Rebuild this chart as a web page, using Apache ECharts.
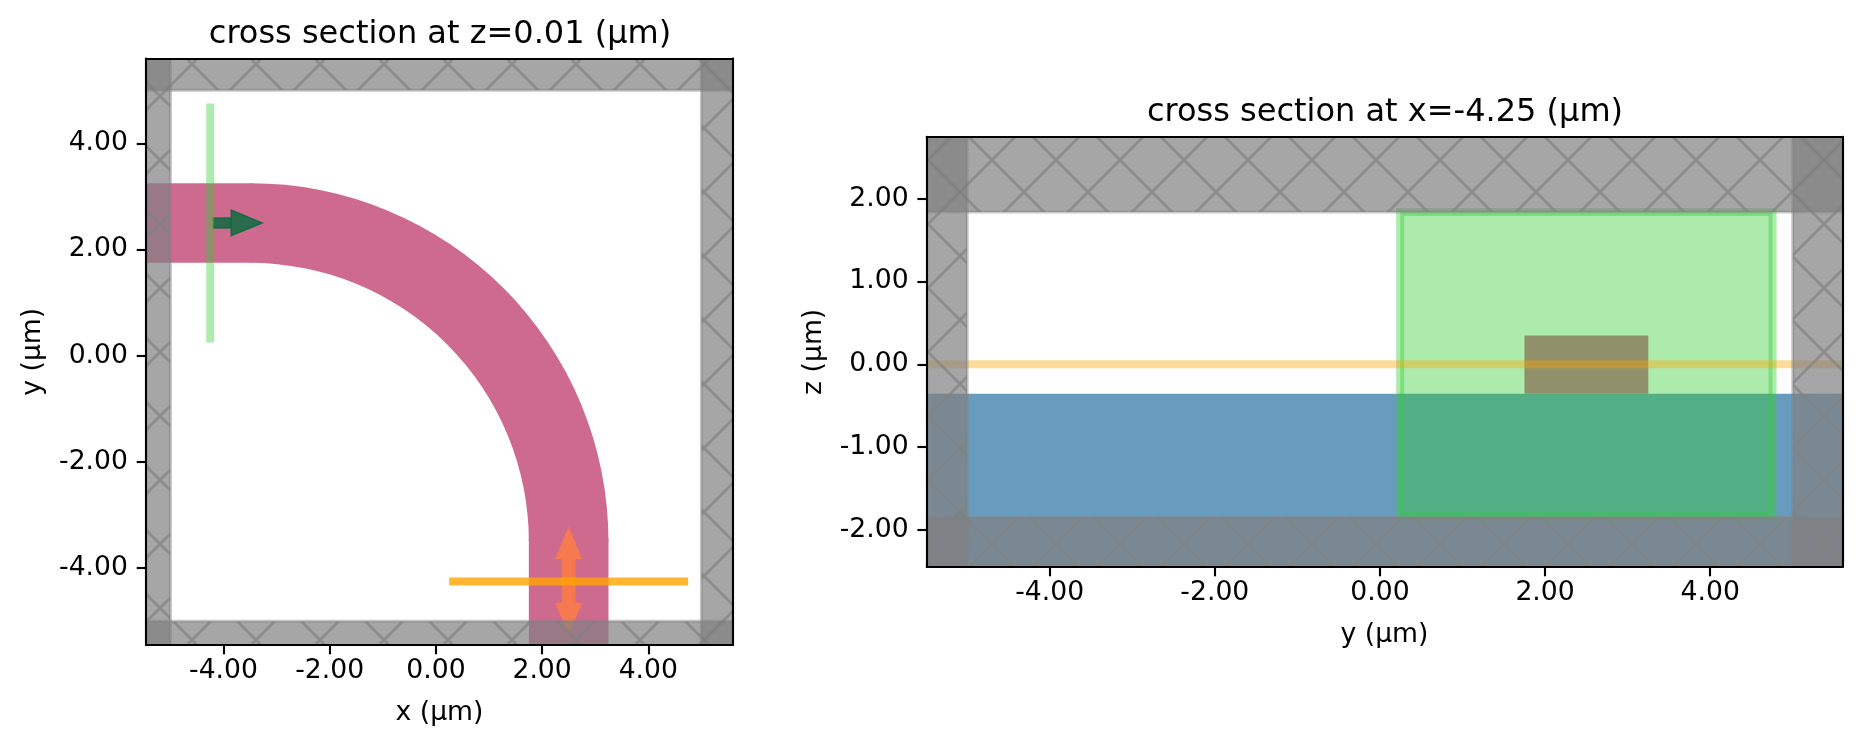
<!DOCTYPE html>
<html><head><meta charset="utf-8">
<style>html,body{margin:0;padding:0;background:#fff}#c{width:1861px;height:748px}</style>
<script src="https://cdn.jsdelivr.net/npm/echarts@6/dist/echarts.min.js"></script>
</head><body><div id="c"></div>
<script>
// axis ranges and ticks
const leftXRange = [-5.46, 5.595];
const leftYRange = [-5.448, 5.597];
const rightXRange = [-5.49, 5.6];
const rightYRange = [-2.448, 2.75];
const leftXTicks = [-4, -2, 0, 2, 4];
const leftYTicks = [-4, -2, 0, 2, 4];
const rightXTicks = [-4, -2, 0, 2, 4];
const rightYTicks = [-2, -1, 0, 1, 2];
const leftTitle = 'cross section at z=0.01 (µm)';
const rightTitle = 'cross section at x=-4.25 (µm)';
// rectangles are [x0, x1, y0, y1] in µm
const wgStraights = [[-6, -3.45, 1.75, 3.25], [1.75, 3.25, -6, -3.45]];
const wgBend = [[-3.5, -3.5, 5.25, 6.75]]; // cx, cy, inner r, outer r
const leftPml = [[-6, 6, 5, 6], [-6, 6, -6, -5], [-6, -5, -6, 6], [5, 6, -6, 6]];
const sourcePlaneLine = [[-4.25, 0.25, -4.25, 4.75]];
const monitorPlaneLine = [[0.25, -4.25, 4.75, -4.25]];
const sourceArrow = [[-4.19,2.406],[-3.855,2.406],[-3.855,2.74],[-3.27,2.5],[-3.855,2.26],[-3.855,2.594],[-4.19,2.594]];
const monitorArrow = [[2.5,-3.226],[2.25,-3.83],[2.374,-3.83],[2.374,-4.654],[2.25,-4.654],[2.5,-5.25],[2.75,-4.654],[2.626,-4.654],[2.626,-3.83],[2.75,-3.83]];
const substrate = [[-6, 6, -3, -0.355]];
const wgSection = [[1.75, 3.25, -0.355, 0.35]];
const monitorLine = [[-6, 0, 6, 0]];
const sourceBox = [[0.245, 4.755, -1.835, 1.84]];
const rightPml = [[-6, 6, 1.84, 3], [-6, 6, -3, -1.85], [-6, -5, -3, 3], [5, 6, -3, 3]];

const FONT = 'DejaVu Sans';
const GRAY = 'rgba(128,128,128,0.7)';

function hatchTile() {
  const s = 64, cv = document.createElement('canvas');
  cv.width = s; cv.height = s;
  const g = cv.getContext('2d');
  g.fillStyle = GRAY; g.fillRect(0, 0, s, s);
  g.beginPath();
  for (const k of [-1, 0, 1]) {
    g.moveTo(-s, -s + k * s); g.lineTo(2 * s, 2 * s + k * s);
    g.moveTo(2 * s + k * s, -s); g.lineTo(-s + k * s, 2 * s);
  }
  g.strokeStyle = GRAY; g.lineWidth = 2.67; g.stroke();
  return cv;
}
const hatch = { image: hatchTile(), repeat: 'repeat' };

function base(name, grid, data, z, renderItem) {
  const ax = grid === 0 ? 0 : 2;
  return { type: 'custom', name, xAxisIndex: ax, yAxisIndex: ax, clip: true, z, silent: true,
    data, renderItem, encode: { x: 0, y: 1 }, animation: false };
}
function rects(name, grid, data, z, style) {
  return base(name, grid, data, z, (p, api) => {
    const a = api.coord([api.value(0), api.value(3)]), b = api.coord([api.value(1), api.value(2)]);
    return { type: 'rect', shape: { x: a[0], y: a[1], width: b[0] - a[0], height: b[1] - a[1] }, style };
  });
}
function lines(name, grid, data, z, style) {
  return base(name, grid, data, z, (p, api) => {
    const a = api.coord([api.value(0), api.value(1)]), b = api.coord([api.value(2), api.value(3)]);
    return { type: 'line', shape: { x1: a[0], y1: a[1], x2: b[0], y2: b[1] }, style };
  });
}
function bend(name, grid, data, z, style) {
  return base(name, grid, data, z, (p, api) => {
    const c = api.coord([api.value(0), api.value(1)]);
    const u = api.size([1, 1]), k = (u[0] + u[1]) / 2;
    return { type: 'sector', shape: { cx: c[0], cy: c[1], r0: api.value(2) * k, r: api.value(3) * k,
      startAngle: -Math.PI / 2, endAngle: 0, clockwise: true }, style };
  });
}
function polygon(name, grid, pts, z, style) {
  return base(name, grid, pts, z, (p, api) => {
    if (p.dataIndex !== 0) return null;
    return { type: 'polygon', shape: { points: pts.map(q => api.coord(q)) }, style };
  });
}

const pink = { fill: '#cf6a8f' };
const pmlStyle = { fill: hatch, stroke: 'rgba(128,128,128,0.45)', lineWidth: 3 };
const series = [
  rects('waveguide', 0, wgStraights, 2, pink),
  bend('bend', 0, wgBend, 2, pink),
  polygon('source arrow', 0, sourceArrow, 3, { fill: 'rgba(0,107,60,0.8)', stroke: 'rgba(0,107,60,0.8)', lineWidth: 1.5 }),
  polygon('monitor arrow', 0, monitorArrow, 3, { fill: 'rgba(255,125,62,0.8)', stroke: 'rgba(255,125,62,0.3)', lineWidth: 1 }),
  lines('source plane', 0, sourcePlaneLine, 4, { stroke: 'rgba(50,205,50,0.4)', lineWidth: 8 }),
  lines('monitor plane', 0, monitorPlaneLine, 4, { stroke: 'rgba(255,165,0,0.8)', lineWidth: 8 }),
  rects('pml', 0, leftPml, 5, pmlStyle),
  rects('substrate', 1, substrate, 2, { fill: '#689cbe' }),
  rects('waveguide section', 1, wgSection, 2, pink),
  rects('source box', 1, sourceBox, 3, { fill: 'rgba(50,205,50,0.4)', stroke: 'rgba(50,205,50,0.4)', lineWidth: 8 }),
  lines('monitor line', 1, monitorLine, 4, { stroke: 'rgba(255,165,0,0.4)', lineWidth: 8 }),
  rects('pml', 1, rightPml, 5, pmlStyle)
];

function mainX(grid, range, ticks, name) {
  return { type: 'value', gridIndex: grid, position: 'bottom', min: range[0], max: range[1], z: 10,
    name, nameLocation: 'middle', nameGap: 55, nameTextStyle: { fontFamily: FONT, fontSize: 26.67, color: '#000' },
    splitLine: { show: false },
    axisLine: { onZero: false, lineStyle: { color: '#000', width: 2.13 } },
    axisTick: { length: 9.3, lineStyle: { color: '#000', width: 2.13 }, customValues: ticks },
    axisLabel: { customValues: ticks, margin: 13, fontFamily: FONT, fontSize: 26.67, color: '#000', formatter: v => v.toFixed(2) } };
}
function mainY(grid, range, ticks, name, gap) {
  return { type: 'value', gridIndex: grid, position: 'left', min: range[0], max: range[1], z: 10,
    name, nameLocation: 'middle', nameGap: gap, nameTextStyle: { fontFamily: FONT, fontSize: 26.67, color: '#000' },
    splitLine: { show: false },
    axisLine: { onZero: false, lineStyle: { color: '#000', width: 2.13 } },
    axisTick: { length: 9.3, lineStyle: { color: '#000', width: 2.13 }, customValues: ticks },
    axisLabel: { customValues: ticks, margin: 18, fontFamily: FONT, fontSize: 26.67, color: '#000', formatter: v => v.toFixed(2) } };
}
function frame(grid, range, position) {
  return { type: 'value', gridIndex: grid, position, min: range[0], max: range[1], z: 10,
    splitLine: { show: false }, axisTick: { show: false }, axisLabel: { show: false },
    axisLine: { show: true, onZero: false, lineStyle: { color: '#000', width: 2.13 } } };
}

const chart = echarts.init(document.getElementById('c'), null, { renderer: 'canvas', width: 1861, height: 748 });
chart.setOption({
  animation: false,
  backgroundColor: '#fff',
  title: [
    { text: leftTitle, left: 435, top: 14, textAlign: 'center', textStyle: { fontFamily: FONT, fontSize: 32, fontWeight: 'normal', color: '#000' } },
    { text: rightTitle, left: 1380, top: 92, textAlign: 'center', textStyle: { fontFamily: FONT, fontSize: 32, fontWeight: 'normal', color: '#000' } }
  ],
  grid: [
    { left: 146, top: 58.5, width: 587, height: 586.5 },
    { left: 926.7, top: 136.7, width: 915.6, height: 430.3 }
  ],
  xAxis: [mainX(0, leftXRange, leftXTicks, 'x (µm)'), frame(0, leftXRange, 'top'),
          mainX(1, rightXRange, rightXTicks, 'y (µm)'), frame(1, rightXRange, 'top')],
  yAxis: [mainY(0, leftYRange, leftYTicks, 'y (µm)', 99), frame(0, leftYRange, 'right'),
          mainY(1, rightYRange, rightYTicks, 'z (µm)', 99), frame(1, rightYRange, 'right')],
  series
});
</script></body></html>
